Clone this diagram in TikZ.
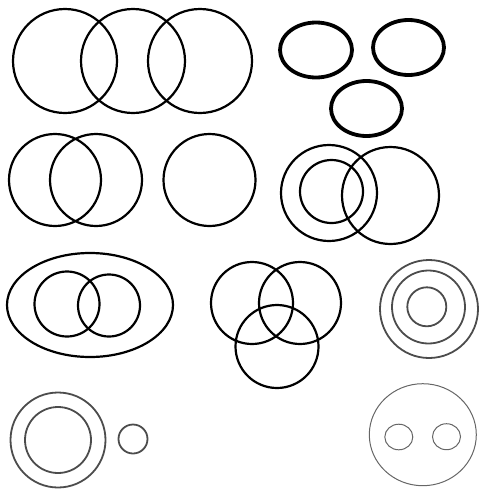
\documentclass[tikz,border=0pt]{standalone}
\usepackage{tikz}

\begin{document}
\begin{tikzpicture}[
  x=1pt, y=-1pt,
  ring/.style={draw=black, line width=2.2pt},
  boldring/.style={draw=black, line width=3.8pt},
  greyring/.style={draw=black!70, line width=1.8pt},
  faintring/.style={draw=black!60, line width=1pt}
]
\useasboundingbox (0,0) rectangle (498,496);

\foreach \cx in {65,133,200}
  \draw[ring] (\cx,61) circle (52);

\foreach \cx in {55,96}
  \draw[ring] (\cx,180) circle (46);
\draw[ring] (209.5,180) circle (46);

\draw[boldring] (316,50) ellipse [x radius=36, y radius=27.5];
\draw[boldring] (408.5,47.5) ellipse [x radius=35.5, y radius=27.5];
\draw[boldring] (366.5,108.5) ellipse [x radius=35.5, y radius=27.5];

\draw[ring] (329,193) circle (48);
\draw[ring] (331.5,191.5) circle (31.5);
\draw[ring] (390.5,195.5) circle (48.5);

\draw[ring] (90,305) ellipse [x radius=83, y radius=52];
\draw[ring] (67,304) circle (32.5);
\draw[ring] (109,305.5) circle (31);

\draw[ring] (252,303) circle (41);
\draw[ring] (300,303) circle (41);
\draw[ring] (277,346.5) circle (41.5);

\draw[greyring] (429,309) circle (49);
\draw[greyring] (428.5,307) circle (36.5);
\draw[greyring] (426.8,306.8) circle (19.5);

\draw[greyring] (58,440) circle (47.5);
\draw[greyring] (58,440) circle (33);
\draw[greyring] (133,439) circle (14.5);

\draw[faintring] (422.8,434.7) ellipse [x radius=53.5, y radius=51];
\draw[faintring] (398.8,437) ellipse [x radius=14, y radius=12.8];
\draw[faintring] (446.5,436.7) ellipse [x radius=14, y radius=13];
\end{tikzpicture}
\end{document}
